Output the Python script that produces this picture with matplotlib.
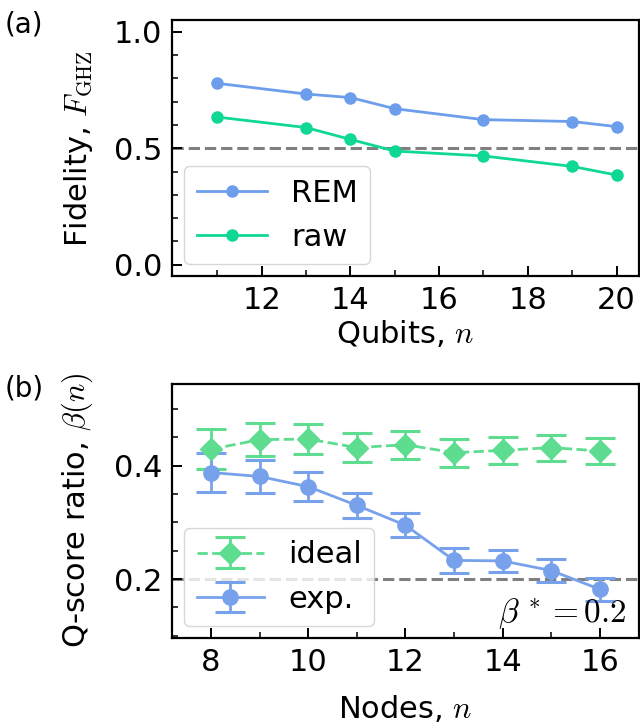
import matplotlib
matplotlib.use("Agg")
import matplotlib.pyplot as plt
from matplotlib.ticker import MultipleLocator, FixedLocator

plt.rcParams['font.family'] = ['DejaVu Sans']
plt.rcParams['mathtext.fontset'] = 'cm'
plt.rcParams['font.size'] = 22

# Panel (a) data
qubits = [11, 13, 14, 15, 17, 19, 20]
fid_rem = [0.779, 0.733, 0.718, 0.670, 0.623, 0.615, 0.593]
fid_raw = [0.634, 0.589, 0.538, 0.488, 0.467, 0.422, 0.385]
qubit_ticks = [12, 14, 16, 18, 20]

# Panel (b) data
nodes = [8, 9, 10, 11, 12, 13, 14, 15, 16]
beta_ideal = [0.429, 0.446, 0.447, 0.432, 0.437, 0.423, 0.427, 0.432, 0.426]
beta_ideal_err = [0.035, 0.029, 0.027, 0.025, 0.025, 0.025, 0.024, 0.023, 0.023]
beta_exp = [0.388, 0.381, 0.363, 0.330, 0.295, 0.233, 0.232, 0.215, 0.182]
beta_exp_err = [0.035, 0.029, 0.026, 0.022, 0.021, 0.022, 0.020, 0.021, 0.020]

c_rem = '#6d9eeb'
c_raw = '#0fd894'
c_exp = '#78a1ec'
c_ideal = '#5edc90'

fig = plt.figure(figsize=(6.4, 7.25), dpi=100)
ax1 = fig.add_axes([0.269, 0.619, 0.729, 0.353])
ax2 = fig.add_axes([0.269, 0.120, 0.729, 0.351])

for ax in (ax1, ax2):
    ax.tick_params(which='both', direction='in', top=False, right=False)
    ax.tick_params(which='major', length=7.5, width=1.4, labelsize=22, pad=7)
    ax.tick_params(which='minor', length=4.5, width=1.1)
    for s in ax.spines.values():
        s.set_linewidth(1.6)

# Panel (a)
ax1.axhline(0.5, color='gray', ls='--', lw=2.2, zorder=1)
ax1.plot(qubits, fid_rem, '-o', color=c_rem, lw=2, ms=8, label='REM', zorder=3)
ax1.plot(qubits, fid_raw, '-o', color=c_raw, lw=2, ms=8, label='raw', zorder=3)
ax1.set_xlim(9.98, 20.5)
ax1.set_ylim(-0.05, 1.05)
ax1.xaxis.set_major_locator(FixedLocator(qubit_ticks))
ax1.xaxis.set_minor_locator(FixedLocator([11, 13, 15, 17, 19]))
ax1.yaxis.set_major_locator(MultipleLocator(0.5))
ax1.yaxis.set_minor_locator(MultipleLocator(0.1))
ax1.set_xlabel('Qubits, $n$', fontsize=22, labelpad=2)
ax1.set_ylabel(r'Fidelity, $F_{\rm GHZ}$', fontsize=22, labelpad=14)
ax1.legend(loc='lower left', fontsize=22, handlelength=2.3, borderaxespad=0.4)

# Panel (b)
ax2.axhline(0.2, color='gray', ls='--', lw=2.2, zorder=1)
ax2.errorbar(nodes, beta_ideal, yerr=beta_ideal_err, fmt='--D', color=c_ideal,
             lw=2, ms=11, capsize=11, capthick=2.2, elinewidth=2, label='ideal', zorder=3)
ax2.errorbar(nodes, beta_exp, yerr=beta_exp_err, fmt='-o', color=c_exp,
             lw=2, ms=11, capsize=11, capthick=2.2, elinewidth=2, label='exp.', zorder=3)
ax2.set_xlim(7.2, 16.8)
ax2.set_ylim(0.096, 0.545)
ax2.xaxis.set_major_locator(MultipleLocator(2))
ax2.xaxis.set_minor_locator(MultipleLocator(1))
ax2.yaxis.set_major_locator(MultipleLocator(0.2))
ax2.yaxis.set_minor_locator(MultipleLocator(0.05))
ax2.set_xlabel('Nodes, $n$', fontsize=22, labelpad=12)
ax2.set_ylabel(r'Q-score ratio, $\beta(n)$', fontsize=22, labelpad=14)
ax2.legend(loc='lower left', fontsize=22, handlelength=2.2, borderaxespad=0.4)
ax2.text(0.975, 0.064, r'$\beta^{\,*} = 0.2$', transform=ax2.transAxes,
         ha='right', va='baseline', fontsize=24)

fig.text(0.008, 0.985, '(a)', fontsize=20, va='top', ha='left')
fig.text(0.008, 0.483, '(b)', fontsize=20, va='top', ha='left')

fig.savefig('out.png', dpi=100)
